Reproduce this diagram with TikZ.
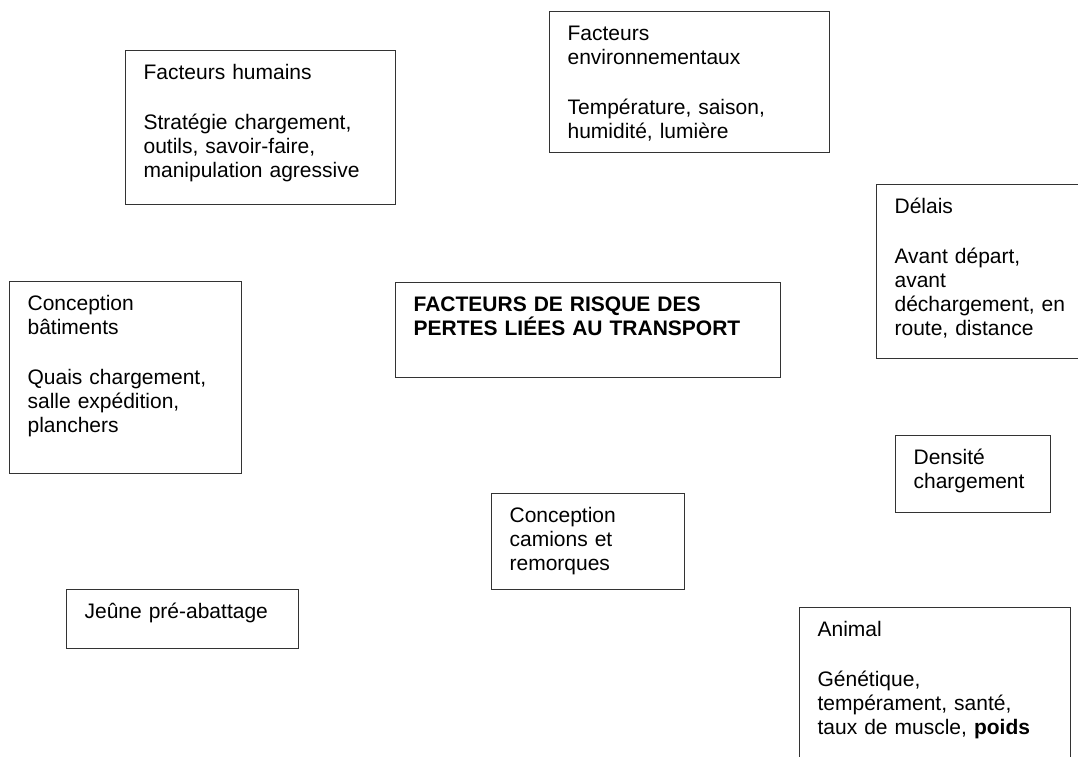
\documentclass[tikz,border=0pt]{standalone}
\usepackage{fontspec}
\setmainfont{Liberation Sans}
\usepackage{tikz}
\usetikzlibrary{positioning}

\begin{document}
\begin{tikzpicture}[x=1pt, y=-1pt,
    factor/.style={rectangle, draw=black!80, line width=1.2pt, anchor=north west,
                   align=left, inner xsep=18pt, inner ysep=12pt, text height=17pt,
                   font=\fontsize{21}{24}\selectfont},
    title/.style={factor, font=\fontsize{21}{24}\selectfont\bfseries}
  ]
    \useasboundingbox (0,0) rectangle (1078,756);
    \clip (0,0) rectangle (1078,756);

    % Central box
    \node[title, text width=349pt, text depth=54pt] (risk) at (395,282)
      {FACTEURS DE RISQUE DES\\PERTES LIÉES AU TRANSPORT};

    % Factors
    \node[factor, text width=234pt, text depth=113pt] (human) at (125,50)
      {Facteurs humains\\[26pt]Stratégie chargement,\\outils, savoir-faire,\\manipulation agressive};
    \node[factor, text width=244pt, text depth=100pt] (environment) at (549,11)
      {Facteurs\\environnementaux\\[26pt]Température, saison,\\humidité, lumière};
    \node[factor, text width=179pt, text depth=133pt] (delays) at (876,184)
      {Délais\\[26pt]Avant départ,\\avant\\déchargement, en\\route, distance};
    \node[factor, text width=196pt, text depth=151pt] (buildings) at (9,281)
      {Conception\\bâtiments\\[26pt]Quais chargement,\\salle expédition,\\planchers};
    \node[factor, text width=119pt, text depth=36pt] (density) at (895,435)
      {Densité\\chargement};
    \node[factor, text width=157pt, text depth=55pt] (trucks) at (491,493)
      {Conception\\camions et\\remorques};
    \node[factor, text width=196pt, text depth=18pt] (fasting) at (66,589)
      {Jeûne pré-abattage};
    \node[factor, text width=235pt, text depth=129pt] (animal) at (799,607)
      {Animal\\[26pt]Génétique,\\tempérament, santé,\\taux de muscle, \textbf{poids}};
  \end{tikzpicture}
\end{document}
